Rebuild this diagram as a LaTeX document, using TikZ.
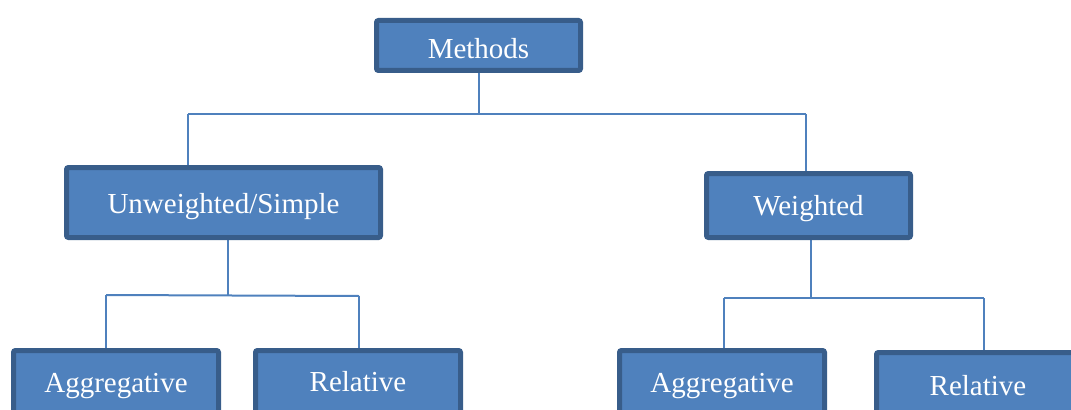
\documentclass[tikz,border=0pt]{standalone}
\usepackage{fontspec}
\setmainfont{Liberation Serif}
\usetikzlibrary{backgrounds}
\definecolor{boxfill}{HTML}{4F81BD}
\definecolor{boxedge}{HTML}{385D8A}
\definecolor{linecol}{HTML}{4F81BD}
\tikzset{
  box/.style={draw=boxedge, fill=boxfill, line width=3.75pt, rounded corners=1.5pt,
    text=white, font=\fontsize{21.75}{26}\selectfont, inner sep=0pt, text depth=0pt},
  conn/.style={draw=linecol, line width=1.5pt}
}
\begin{document}
\begin{tikzpicture}[x=0.75pt, y=-0.75pt]
\useasboundingbox (0,0) rectangle (1071,410);
\clip (0,0) rectangle (1071,410);
\node[box, minimum width=153pt, minimum height=37.5pt, text height=20pt] (methods) at (478.5,45.5) {Methods};
\node[box, minimum width=235.5pt, minimum height=52.5pt, text height=15.75pt] (unw) at (223.5,202.5) {Unweighted/Simple};
\node[box, minimum width=153pt, minimum height=48pt, text height=14.25pt] (wtd) at (808.5,205.5) {Weighted};
\node[box, minimum width=153.75pt, minimum height=52.5pt, text height=9.75pt] (agg1) at (116,385.5) {Aggregative};
\node[box, minimum width=153.75pt, minimum height=52.5pt, text height=8.25pt] (rel1) at (358,385.5) {Relative};
\node[box, minimum width=153.75pt, minimum height=52.5pt, text height=9.75pt] (agg2) at (722,385.5) {Aggregative};
\node[box, minimum width=152.25pt, minimum height=52.5pt, text height=11.25pt] (rel2) at (978,387.5) {Relative};
\coordinate (b1l) at (188,114);
\coordinate (b1r) at (806,114);
\coordinate (b1m) at (478.5,114);
\coordinate (b2l) at (106,295);
\coordinate (b2r) at (359,296);
\coordinate (b2m) at (228,295);
\coordinate (b3l) at (724,298);
\coordinate (b3r) at (984,298);
\coordinate (b3m) at (811,298);
\begin{scope}[on background layer]
\draw[conn] (methods.south) -- (b1m);
\draw[conn] (b1l) -- (b1r);
\draw[conn] (b1l) -- (b1l |- unw.north);
\draw[conn] (b1r) -- (b1r |- wtd.north);
\draw[conn] (b2m |- unw.south) -- (b2m);
\draw[conn] (b2l) -- (b2r);
\draw[conn] (b2l) -- (b2l |- agg1.north);
\draw[conn] (b2r) -- (b2r |- rel1.north);
\draw[conn] (b3m |- wtd.south) -- (b3m);
\draw[conn] (b3l) -- (b3r);
\draw[conn] (b3l) -- (b3l |- agg2.north);
\draw[conn] (b3r) -- (b3r |- rel2.north);
\end{scope}
\end{tikzpicture}
\end{document}
